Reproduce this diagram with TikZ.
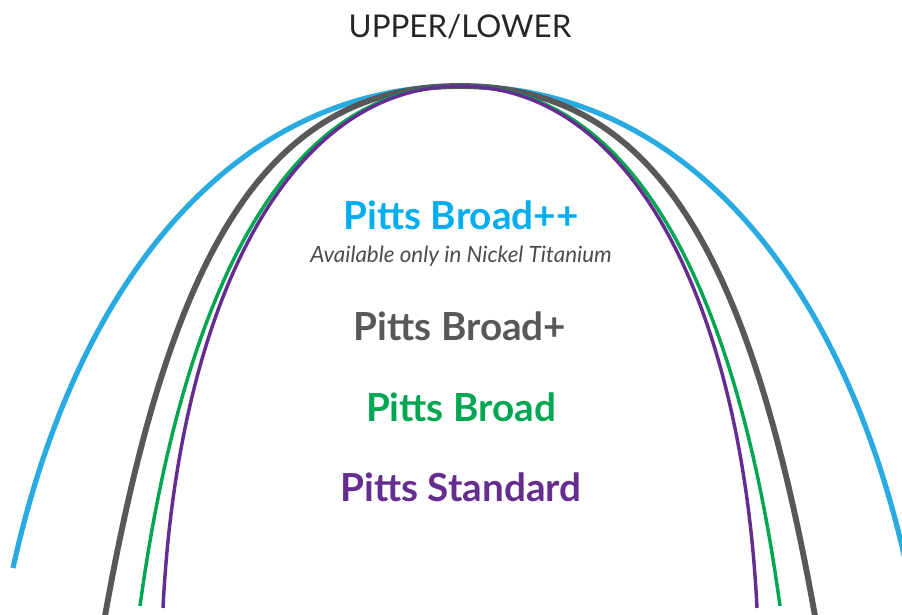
\documentclass[tikz,border=0pt]{standalone}
\usepackage{fontspec}
\setmainfont{Lato}
\definecolor{cblue}{HTML}{29ABE2}
\definecolor{tblue}{HTML}{00AEEF}
\definecolor{cgray}{HTML}{58585A}
\definecolor{cgreen}{HTML}{00A651}
\definecolor{cpurple}{HTML}{662D91}
\begin{document}
\begin{tikzpicture}[x=0.75pt,y=-0.75pt,
  wire/.style={line cap=butt,line join=round},
  lbl/.style={font=\fontsize{29}{33}\selectfont\bfseries,anchor=base}]
\useasboundingbox (0,0) rectangle (902,614);
\clip (0,0) rectangle (902,614);
\coordinate (apex) at (460,86);
% Pitts Broad++ (blue)
\coordinate (bL) at (13,568);
\coordinate (bR) at (907,568);
\draw[wire,cblue,line width=3.9pt] (bL) .. controls (79,268) and (243,86) .. (apex)
  .. controls (677,86) and (841,268) .. (bR);
% Pitts Broad+ (gray)
\coordinate (gL) at (105,616);
\coordinate (gR) at (815,616);
\draw[wire,cgray,line width=4.4pt] (gL) .. controls (168,264) and (260,86) .. (apex)
  .. controls (660,86) and (752,264) .. (gR);
% Pitts Broad (green)
\coordinate (nL) at (140,606);
\coordinate (nR) at (780,606);
\draw[wire,cgreen,line width=2.6pt] (nL) .. controls (182,300) and (281,86) .. (apex)
  .. controls (639,86) and (738,300) .. (nR);
% Pitts Standard (purple)
\coordinate (pL) at (163,608);
\coordinate (pR) at (757,608);
\draw[wire,cpurple,line width=2.6pt] (pL) .. controls (178,308) and (286,86) .. (apex)
  .. controls (634,86) and (742,308) .. (pR);
% texts
\node[anchor=base,font=\fontsize{23.5}{27}\selectfont,text=black!85] (title) at (460,37) {UPPER/LOWER};
\node[lbl,text=tblue] (bpp) at (461,229) {Pitts Broad++};
\node[anchor=base,font=\fontsize{16.8}{20}\selectfont\itshape,text=black!70] (note) at (461,262) {Available only in Nickel Titanium};
\node[lbl,text=cgray] (bp) at (460,340) {Pitts Broad+};
\node[lbl,text=cgreen] (b) at (461,421) {Pitts Broad};
\node[lbl,text=cpurple] (s) at (461,501) {Pitts Standard};
\end{tikzpicture}
\end{document}
